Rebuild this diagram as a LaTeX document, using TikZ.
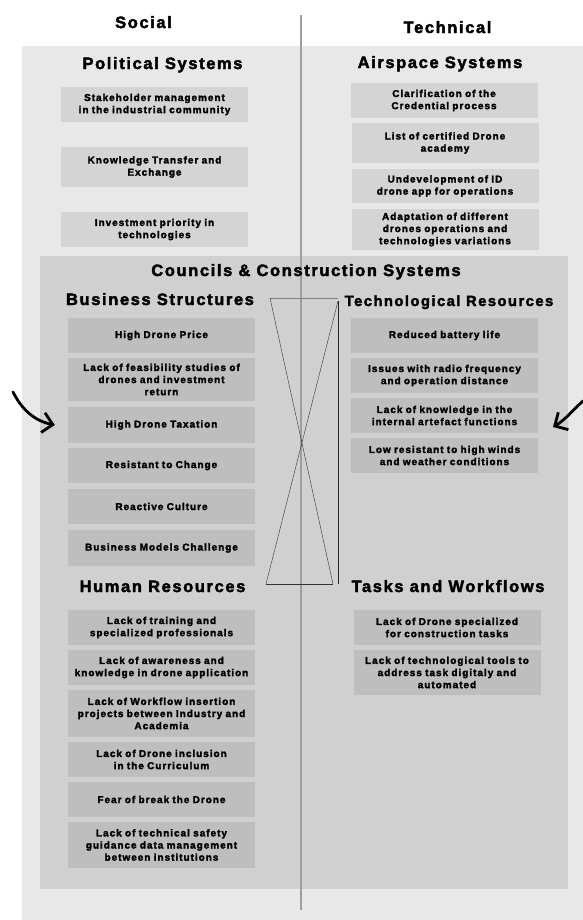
\documentclass[tikz,border=0pt]{standalone}
\usepackage{fontspec}
\setmainfont{Liberation Sans}[LetterSpace=10, BoldFeatures={FakeBold=2.5}]
\usetikzlibrary{arrows.meta, positioning}
\definecolor{PanelGray}{RGB}{232, 232, 232}
\definecolor{CouncilGray}{RGB}{208, 208, 208}
\definecolor{BoxLight}{RGB}{212, 212, 212}
\definecolor{BoxDark}{RGB}{190, 190, 190}
\definecolor{RuleGray}{RGB}{158, 158, 158}

\begin{document}
\begin{tikzpicture}[x=1bp, y=-1bp,
    head/.style={anchor=base, font=\fontsize{16.5}{18}\selectfont\bfseries},
    box/.style={fill=BoxDark, minimum width=187bp, minimum height=35bp, text width=187bp,
      inner sep=0pt, align=center, font=\fontsize{10}{12.2}\selectfont\bfseries},
    topbox/.style={box, fill=BoxLight},
    hand/.style={line width=2.8bp, line cap=round, -{Straight Barb[length=10bp, width=20bp, line width=2.8bp]}}]
    \useasboundingbox (0, 0) rectangle (583, 920);

    % Panels
    \fill[PanelGray] (22, 46) rectangle (583, 920);
    \fill[CouncilGray] (40, 256) rectangle (568, 889);
    \draw[RuleGray, line width=1.6bp] (301, 15) -- (301, 910);

    % Column titles
    \node[head] (social) at (143.5, 28) {Social};
    \node[head] (technical) at (447.5, 33) {Technical};

    % Political systems
    \node[head] (polTitle) at (162.5, 69) {Political Systems};
    \node[topbox] (pol1) at (154.5, 104.5) {Stakeholder management\\in the industrial community};
    \node[topbox, minimum height=40bp] (pol2) at (154.5, 167) {Knowledge Transfer and\\Exchange};
    \node[topbox] (pol3) at (154.5, 229.5) {Investment priority in\\technologies};

    % Airspace systems
    \node[head] (airTitle) at (440, 68) {Airspace Systems};
    \node[topbox, minimum width=186bp] (air1) at (444, 100.5) {Clarification of the\\Credential process};
    \node[topbox, minimum width=186bp, minimum height=40bp] (air2) at (445, 143) {List of certified Drone\\academy};
    \node[topbox, minimum width=186bp, minimum height=34bp] (air3) at (445, 186) {Undevelopment of ID\\drone app for operations};
    \node[topbox, minimum width=186bp, minimum height=41bp] (air4) at (445, 229.5) {Adaptation of different\\drones operations and\\technologies variations};

    % Councils & construction systems
    \node[head] (councils) at (306, 276) {Councils \& Construction Systems};

    % Business structures
    \node[head] (busTitle) at (160, 305) {Business Structures};
    \node[box] (bus1) at (161.5, 335.5) {High Drone Price};
    \node[box, minimum height=43bp] (bus2) at (161.5, 379.5) {Lack of feasibility studies of\\drones and investment\\return};
    \node[box, minimum height=36bp] (bus3) at (161.5, 425) {High Drone Taxation};
    \node[box] (bus4) at (161.5, 465.5) {Resistant to Change};
    \node[box] (bus5) at (161.5, 506.5) {Reactive Culture};
    \node[box, minimum height=36bp] (bus6) at (161.5, 548) {Business Models Challenge};

    % Technological resources
    \node[head, font=\fontsize{14.8}{17}\selectfont\bfseries] (techTitle) at (449, 306) {Technological Resources};
    \node[box] (tech1) at (444.5, 335.5) {Reduced battery life};
    \node[box] (tech2) at (444.5, 375.5) {Issues with radio frequency\\and operation distance};
    \node[box] (tech3) at (444.5, 415.5) {Lack of knowledge in the\\internal artefact functions};
    \node[box] (tech4) at (444.5, 455.5) {Low resistant to high winds\\and weather conditions};

    % Human resources
    \node[head] (humTitle) at (162.5, 592) {Human Resources};
    \node[box] (hum1) at (161.5, 627.5) {Lack of training and\\specialized professionals};
    \node[box] (hum2) at (161.5, 667.5) {Lack of awareness and\\knowledge in drone application};
    \node[box, minimum height=47bp] (hum3) at (161.5, 713.5) {Lack of Workflow insertion\\projects between Industry and\\Academia};
    \node[box] (hum4) at (161.5, 759.5) {Lack of Drone inclusion\\in the Curriculum};
    \node[box] (hum5) at (161.5, 799.5) {Fear of break the Drone};
    \node[box, minimum height=46bp] (hum6) at (161.5, 845) {Lack of technical safety\\guidance data management\\between institutions};

    % Tasks and workflows
    \node[head] (taskTitle) at (448, 592) {Tasks and Workflows};
    \node[box, minimum width=186bp] (task1) at (447, 627.5) {Lack of Drone specialized\\for construction tasks};
    \node[box, minimum width=186bp, minimum height=45bp] (task2) at (447, 672.5) {Lack of technological tools to\\address task digitaly and\\automated};

    % Links between the four groups
    \coordinate (xTL) at (270, 298);
    \coordinate (xTR) at (338, 301);
    \coordinate (xBL) at (266, 584);
    \coordinate (xBR) at (333, 584);
    \coordinate (xBV) at (338, 584);
    \draw[gray, line width=0.9bp] (xTL) -- (xTR |- xTL);
    \draw[black!80, line width=0.4bp] (xTL) -- (xBR);
    \draw[black!80, line width=0.4bp] (xTR) -- (xBL);
    \draw[black!80, line width=0.6bp] (xBL) -- (xBR);
    \draw[black!85, line width=0.8bp] (xTR) -- (xBV);

    % Hand arrows
    \coordinate (arrL) at (13, 392);
    \coordinate (arrR) at (583, 401);
    \draw[hand] (arrL) .. controls (22, 410) and (35, 421) .. ([xshift=-13bp]bus3.west);
    \draw[hand] (arrR) .. controls (575, 408) and (565, 420) .. (553, 427);
  \end{tikzpicture}
\end{document}
